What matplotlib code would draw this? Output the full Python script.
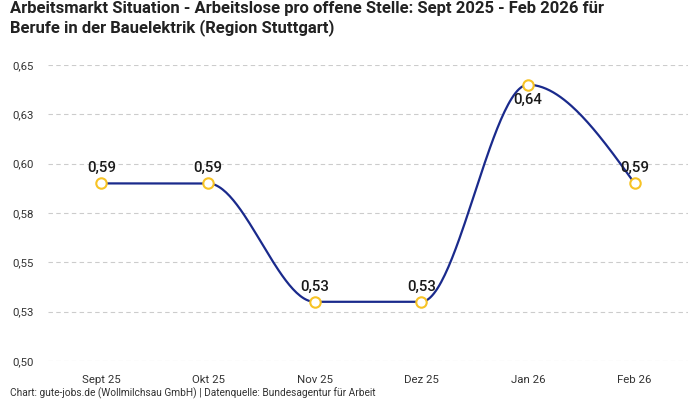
import numpy as np
import matplotlib
matplotlib.use("Agg")
import matplotlib.pyplot as plt

categories = ["Sept 25", "Okt 25", "Nov 25", "Dez 25", "Jan 26", "Feb 26"]
values = [0.59, 0.59, 0.53, 0.53, 0.64, 0.59]
value_labels = ["0,59", "0,59", "0,53", "0,53", "0,64", "0,59"]
label_below = [False, False, False, False, True, False]
y_ticks = [0.50, 0.525, 0.55, 0.575, 0.60, 0.625, 0.65]
y_tick_labels = ["0,50", "0,53", "0,55", "0,58", "0,60", "0,63", "0,65"]

title = ("Arbeitsmarkt Situation - Arbeitslose pro offene Stelle: Sept 2025 - Feb 2026 für\n"
         "Berufe in der Bauelektrik (Region Stuttgart)")
footnote = "Chart: gute-jobs.de (Wollmilchsau GmbH) | Datenquelle: Bundesagentur für Arbeit"

plt.rcParams['font.family'] = ['Roboto', 'DejaVu Sans']

LINE = "#1a2a8c"
MARK = "#f7c325"


def monotone_x(x, y, n=60):
    x = np.asarray(x, float)
    y = np.asarray(y, float)
    h = np.diff(x)
    s = np.diff(y) / h
    t = np.zeros_like(y)
    for i in range(1, len(y) - 1):
        h0, h1 = h[i - 1], h[i]
        s0, s1 = s[i - 1], s[i]
        p = (s0 * h1 + s1 * h0) / (h0 + h1)
        t[i] = (np.sign(s0) + np.sign(s1)) * min(abs(s0), abs(s1), 0.5 * abs(p))
    t[0] = (3 * s[0] - t[1]) / 2
    t[-1] = (3 * s[-1] - t[-2]) / 2
    xs, ys = [], []
    for i in range(len(x) - 1):
        u = np.linspace(0, 1, n)
        hh = h[i]
        h00 = 2 * u**3 - 3 * u**2 + 1
        h10 = u**3 - 2 * u**2 + u
        h01 = -2 * u**3 + 3 * u**2
        h11 = u**3 - u**2
        xs.append(x[i] + u * hh)
        ys.append(h00 * y[i] + h10 * hh * t[i] + h01 * y[i + 1] + h11 * hh * t[i + 1])
    return np.concatenate(xs), np.concatenate(ys)


fig = plt.figure(figsize=(7, 4), dpi=100)
ax = fig.add_axes([48 / 700, 1 - 361 / 400, 640 / 700, 296 / 400])

xpos = np.arange(len(categories))
cx, cy = monotone_x(xpos, values)
ax.plot(cx, cy, color=LINE, lw=1.6, zorder=3, solid_capstyle='round')
ax.plot(xpos, values, 'o', ms=7.5, mfc='white', mec=MARK, mew=1.5, zorder=4)

for xi, v, lab, below in zip(xpos, values, value_labels, label_below):
    ax.annotate(lab, (xi, v), xytext=(0, -11 if below else 11), textcoords='offset points',
                ha='center', va='center', fontsize=10.8, fontweight='medium', color='#1a1a1a', zorder=5)

ax.set_xlim(-0.5, len(categories) - 0.5)
ax.set_ylim(0.50, 0.65)
ax.set_xticks(xpos)
ax.set_xticklabels(categories)
ax.set_yticks(y_ticks)
ax.set_yticklabels(y_tick_labels)
ax.tick_params(axis='both', length=0, labelsize=8.2, labelcolor='#333333')
ax.tick_params(axis='x', pad=10)
ax.tick_params(axis='y', pad=10)
for lab in ax.get_yticklabels():
    lab.set_ha('right')
ax.grid(axis='y', color='#cccccc', ls=(0, (4, 3)), lw=0.8)
for sp in ax.spines.values():
    sp.set_visible(False)
ax.set_facecolor('none')

fig.text(10 / 700, 1 - 1 / 400, title, ha='left', va='top', fontsize=12,
         fontweight='bold', color='#222222', linespacing=1.2)
fig.text(10 / 700, 1 - 393 / 400, footnote, ha='left', va='center', fontsize=7.3, color='#333333')

fig.savefig("out.png", dpi=100)
